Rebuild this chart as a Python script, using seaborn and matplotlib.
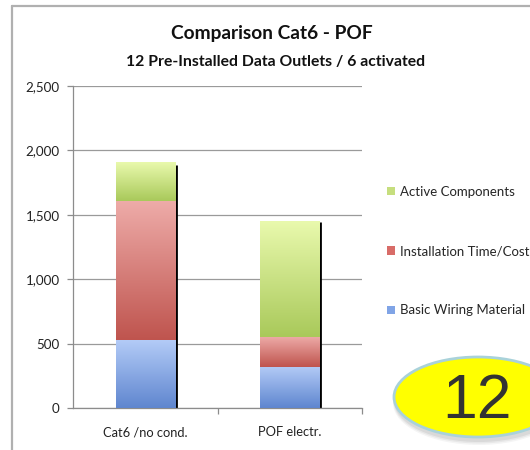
import numpy as np
import pandas as pd
import matplotlib
matplotlib.use("Agg")
import matplotlib.pyplot as plt
from matplotlib.colors import LinearSegmentedColormap
from matplotlib.patches import Ellipse, Patch
from matplotlib.lines import Line2D
import seaborn as sns

# --- data -----------------------------------------------------------------
categories = ["Cat6 /no cond.", "POF electr."]
basic_wiring = [525, 320]
installation = [1080, 235]
active_comp = [300, 900]
series_names = ["Basic Wiring Material", "Installation Time/Cost", "Active Components"]
y_ticks = [0, 500, 1000, 1500, 2000, 2500]

# gradient (top, bottom) colours and legend swatch for each series
grad = {
    "Basic Wiring Material": ("#b3cbf7", "#5f86cf", "#80a4e6"),
    "Installation Time/Cost": ("#eeaca9", "#bf544e", "#d86c68"),
    "Active Components": ("#e9f9ad", "#a9c95a", "#c6de7e"),
}

sns.set_theme(style="white")
plt.rcParams["font.family"] = ["Lato", "DejaVu Sans"]

fig = plt.figure(figsize=(5.3, 4.5), dpi=100)
ax = fig.add_axes([73 / 530, 42 / 450, 289 / 530, 322 / 450])

layers = [basic_wiring, installation, active_comp]
cum = np.cumsum(np.array(layers), axis=0)  # cumulative tops per layer
df = pd.DataFrame({"cat": categories})

# draw from tallest stack down so each lower segment sits on top
bar_groups = {}
for i in reversed(range(3)):
    df["val"] = cum[i]
    n_before = len(ax.patches)
    sns.barplot(data=df, x="cat", y="val", color=grad[series_names[i]][2],
                width=0.41, ax=ax, zorder=2, saturation=1, edgecolor="none")
    bar_groups[i] = ax.patches[n_before:]

# vertical gradient fill on each segment
for i in range(3):
    top_c, bot_c = grad[series_names[i]][0], grad[series_names[i]][1]
    cmap = LinearSegmentedColormap.from_list(f"g{i}", [bot_c, top_c])
    g = np.linspace(0, 1, 256).reshape(-1, 1)
    for j, p in enumerate(bar_groups[i]):
        lower = cum[i - 1][j] if i > 0 else 0
        upper = cum[i][j]
        x0 = p.get_x()
        x1 = x0 + p.get_width()
        ax.imshow(g, cmap=cmap, origin="lower", aspect="auto",
                  extent=[x0, x1, lower, upper], zorder=3 + i,
                  interpolation="bicubic")

# thin dark shadow on the right side of each stack
for j, p in enumerate(bar_groups[2]):
    xr = p.get_x() + p.get_width() + 0.006
    ax.vlines(xr, 0, cum[2][j] * 0.992, color="black", lw=2.0, zorder=2.5)

ax.set_xlim(-0.5, 1.5)
ax.set_ylim(0, 2500)
ax.set_yticks(y_ticks)
ax.set_yticklabels([f"{v:,}" for v in y_ticks])
ax.set_xlabel("")
ax.set_ylabel("")

ax.grid(axis="y", color="#9a9a9a", lw=0.9, zorder=0)
ax.set_axisbelow(True)
for s in ["top", "right"]:
    ax.spines[s].set_visible(False)
for s in ["left", "bottom"]:
    ax.spines[s].set_color("#8c8c8c")
    ax.spines[s].set_linewidth(0.9)

ax.tick_params(axis="y", which="major", direction="out", length=4, width=0.9,
               color="#8c8c8c", labelsize=9.6, labelcolor="#222222", pad=5.5, left=True)
ax.tick_params(axis="x", which="major", length=0, labelsize=9.3,
               labelcolor="#222222", pad=13)
ax.set_xticks([0.5, 1.5], minor=True)
ax.tick_params(axis="x", which="minor", direction="out", length=4, width=0.9,
               color="#8c8c8c", bottom=True)

# titles
fig.text(272 / 530, 1 - 33 / 450, "Comparison Cat6 - POF", ha="center", va="center",
         fontsize=13.8, fontweight="bold", color="#111111")
fig.text(276 / 530, 1 - 62 / 450, "12 Pre-Installed Data Outlets / 6 activated",
         ha="center", va="center", fontsize=11.3, fontweight="bold", color="#111111")

# legend
handles = [Patch(facecolor=grad[n][2], edgecolor="none") for n in reversed(series_names)]
fig.legend(handles, list(reversed(series_names)), loc="center left",
           bbox_to_anchor=(387 / 530, 1 - 251 / 450), frameon=False,
           fontsize=9.5, handlelength=0.6, handleheight=0.6, handletextpad=0.35,
           labelspacing=3.6, borderpad=0, borderaxespad=0)

# chart frame
fig.add_artist(Line2D([12 / 530, 12 / 530], [0, 1 - 6 / 450], color="#b0b0b0",
                      lw=1.6, transform=fig.transFigure))
fig.add_artist(Line2D([12 / 530, 1], [1 - 6 / 450, 1 - 6 / 450], color="#b0b0b0",
                      lw=1.6, transform=fig.transFigure))

# yellow badge
cx, cy = 478 / 530, 1 - 397 / 450
w, h = 168 / 530, 80 / 450
for k, a in enumerate([0.06, 0.08, 0.1]):
    fig.add_artist(Ellipse((cx + 1 / 530, cy - (6 - k) / 450), w + (4 - k) / 530,
                           h + (4 - k) / 450, transform=fig.transFigure,
                           facecolor="#555555", edgecolor="none", alpha=a))
fig.add_artist(Ellipse((cx, cy), w, h, transform=fig.transFigure,
                       facecolor="#ffff00", edgecolor="#a9d2da", lw=2.0))
fig.text(477 / 530, 1 - 401 / 450, "12", ha="center", va="center",
         fontsize=45, color="#333333", family=["Liberation Sans", "DejaVu Sans"])

fig.savefig("out.png", dpi=100)
